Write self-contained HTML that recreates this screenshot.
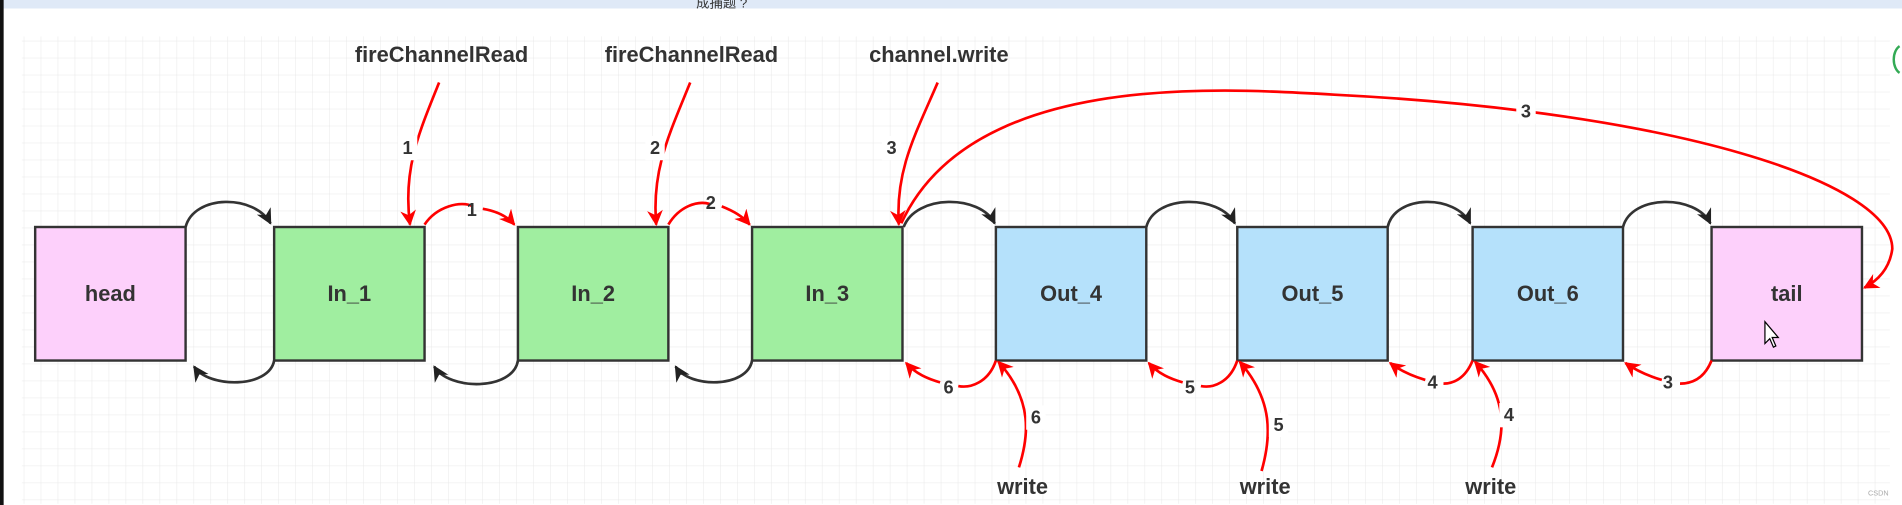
<!DOCTYPE html>
<html><head><meta charset="utf-8"><style>
html,body{margin:0;padding:0;background:#fff;width:1902px;height:505px;overflow:hidden}
svg{display:block}
text{font-family:"Liberation Sans",sans-serif;font-weight:bold;fill:#333}
</style></head><body>
<svg width="1902" height="505" viewBox="0 0 1568 416" preserveAspectRatio="none" xmlns="http://www.w3.org/2000/svg">
<defs>
<pattern id="g" width="14" height="14" patternUnits="userSpaceOnUse" x="20" y="34">
<path d="M14 0V14M0 14H14" stroke="#e8e8e8" stroke-width="0.8" fill="none"/>
</pattern>
<marker id="ab" viewBox="0 0 10 10" refX="9" refY="5" markerWidth="13" markerHeight="13" markerUnits="userSpaceOnUse" orient="auto"><path d="M0,0L10,5L0,10L3,5z" fill="#222"/></marker>
<marker id="ar" viewBox="0 0 10 10" refX="9" refY="5" markerWidth="13" markerHeight="13" markerUnits="userSpaceOnUse" orient="auto"><path d="M0,0L10,5L0,10L3,5z" fill="#f00"/></marker>
</defs>
<rect x="0" y="0" width="1568" height="416" fill="#fff"/>
<rect x="18" y="30" width="1540" height="385" fill="url(#g)"/>
<rect x="0" y="0" width="1568" height="7" fill="#dfe9f7"/>
<rect x="0" y="0" width="3" height="416" fill="#111"/>
<text x="595" y="6" font-size="11" text-anchor="middle" style="font-weight:normal">成捕题 ?</text>

<g stroke="#333" stroke-width="2">
<rect x="29" y="187" width="124" height="110" fill="#fdd0fb"/>
<rect x="226" y="187" width="124" height="110" fill="#a0eea0"/>
<rect x="427" y="187" width="124" height="110" fill="#a0eea0"/>
<rect x="620" y="187" width="124" height="110" fill="#a0eea0"/>
<rect x="821" y="187" width="124" height="110" fill="#b5e1fb"/>
<rect x="1020" y="187" width="124" height="110" fill="#b5e1fb"/>
<rect x="1214" y="187" width="124" height="110" fill="#b5e1fb"/>
<rect x="1411" y="187" width="124" height="110" fill="#fdd0fb"/>
</g>
<g font-size="18" text-anchor="middle">
<text x="91" y="248">head</text>
<text x="288" y="248">In_1</text>
<text x="489" y="248">In_2</text>
<text x="682" y="248">In_3</text>
<text x="883" y="248">Out_4</text>
<text x="1082" y="248">Out_5</text>
<text x="1276" y="248">Out_6</text>
<text x="1473" y="248">tail</text>
<text x="364" y="51">fireChannelRead</text>
<text x="570" y="51">fireChannelRead</text>
<text x="774" y="51">channel.write</text>
<text x="843" y="407">write</text>
<text x="1043" y="407">write</text>
<text x="1229" y="407">write</text>
</g>
<path d="M1455,265 l0,18 l4,-4 l3,7 l2,-1 l-3,-7 l5,0z" fill="#fff" stroke="#000" stroke-width="1"/>

<g stroke="#333" stroke-width="2.2" fill="none" marker-end="url(#ab)">
<path d="M153,187 C160,160 210,160 223,184"/>
<path d="M745,187 C755,160 808,160 820,184"/>
<path d="M945,187 C952,160 1005,160 1018,184"/>
<path d="M1144,187 C1150,160 1200,160 1212,184"/>
<path d="M1338,187 C1345,160 1398,160 1410,184"/>
<path d="M226,297 C222,320 172,320 160,302"/>
<path d="M427,297 C423,322 370,322 358,302"/>
<path d="M620,297 C616,320 568,320 557,302"/>
</g>

<g stroke="#f00" stroke-width="2.2" fill="none" marker-end="url(#ar)">
<path d="M362,68 C345,110 332,140 338,185"/>
<path d="M569,68 C552,110 537,140 541,185"/>
<path d="M773,68 C755,110 738,140 741,185"/>
<path d="M350,185 C360,170 380,165 390,170 M398,172 C410,174 418,178 424,185"/>
<path d="M551,185 C560,170 575,165 585,168 M595,170 C605,174 612,178 618,185"/>
<path d="M743,184 C800,60 1000,72 1100,78 C1380,92 1560,150 1560,205 C1558,220 1550,230 1537,237"/>
<path d="M821,297 C815,315 800,320 790,318 M775,315 C765,312 755,308 747,299"/>
<path d="M1020,297 C1014,315 1000,320 990,318 M975,315 C965,312 955,308 947,299"/>
<path d="M1214,297 C1208,312 1198,316 1190,316 M1175,313 C1165,310 1155,306 1146,299"/>
<path d="M1411,297 C1405,312 1395,316 1385,316 M1370,313 C1360,310 1350,306 1340,299"/>
<path d="M840,385 C848,360 852,330 823,298"/>
<path d="M1040,388 C1048,360 1050,330 1022,298"/>
<path d="M1230,385 C1240,360 1245,330 1216,298"/>
</g>
<g font-size="15" text-anchor="middle">
<rect x="328" y="112" width="16" height="20" fill="#fff"/><text x="336" y="127">1</text>
<rect x="532" y="112" width="16" height="20" fill="#fff"/><text x="540" y="127">2</text>
<rect x="727" y="112" width="16" height="20" fill="#fff"/><text x="735" y="127">3</text>
<text x="389" y="178">1</text>
<text x="586" y="172">2</text>
<rect x="1250" y="82" width="16" height="20" fill="#fff"/><text x="1258" y="97">3</text>
<text x="782" y="324">6</text>
<text x="981" y="324">5</text>
<text x="1181" y="320">4</text>
<text x="1375" y="320">3</text>
<rect x="846" y="334" width="16" height="20" fill="#fff"/><text x="854" y="349">6</text>
<rect x="1046" y="340" width="16" height="20" fill="#fff"/><text x="1054" y="355">5</text>
<rect x="1236" y="332" width="16" height="20" fill="#fff"/><text x="1244" y="347">4</text>
</g>
<path d="M1566,38 a8,12 0 0 0 0,22" stroke="#3a5" stroke-width="2" fill="none"/>
<text x="1540" y="408" font-size="6" style="font-weight:normal;fill:#aaa">CSDN</text>
</svg>
</body></html>
